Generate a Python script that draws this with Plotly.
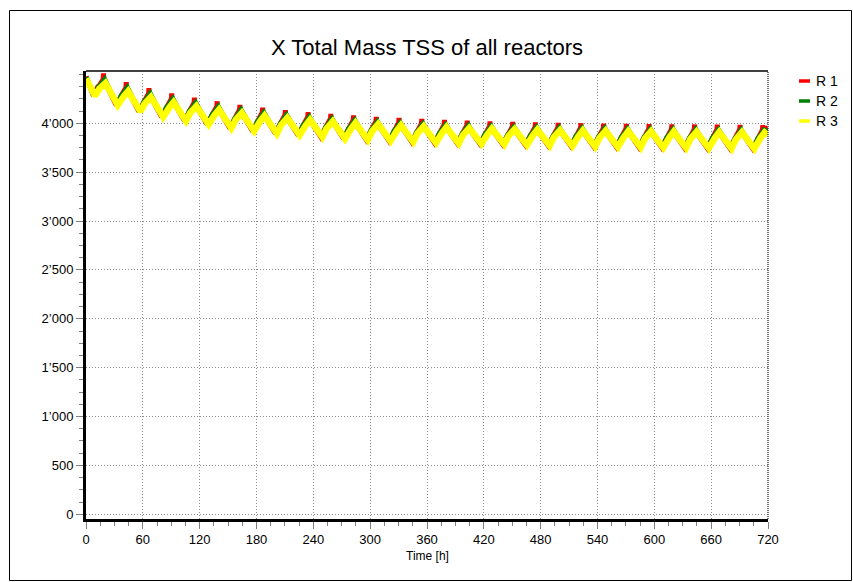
import plotly.graph_objects as go

# ---------------- data ----------------
TROUGH_T = [9.5, 33.5, 57.5, 81.5, 105.5, 129.5, 153.5, 177.5, 201.5, 225.5,
            249.5, 273.5, 297.5, 321.5, 345.5, 369.5, 393.5, 417.5, 441.5, 465.5,
            489.5, 513.5, 537.5, 561.5, 585.5, 609.5, 633.5, 657.5, 681.5, 705.5]
PEAK_T = [20.5, 44.5, 68.5, 92.5, 116.5, 140.5, 164.5, 188.5, 212.5, 236.5,
          260.5, 284.5, 308.5, 332.5, 356.5, 380.5, 404.5, 428.5, 452.5, 476.5,
          500.5, 524.5, 548.5, 572.5, 596.5, 620.5, 644.5, 668.5, 692.5, 716.5]

TROUGH = [4280, 4185, 4120, 4065, 4025, 3990, 3950, 3920, 3895, 3878,
          3860, 3842, 3830, 3820, 3810, 3800, 3795, 3790, 3785, 3778,
          3772, 3767, 3762, 3758, 3754, 3751, 3748, 3745, 3743, 3740]

R3_PEAK = [4410, 4327, 4268, 4215, 4175, 4140, 4105, 4078, 4055, 4035,
           4018, 4003, 3990, 3978, 3968, 3958, 3950, 3944, 3938, 3933,
           3929, 3925, 3922, 3919, 3916, 3914, 3912, 3910, 3908, 3906]
R2_PEAK = [4450, 4365, 4305, 4250, 4210, 4173, 4138, 4110, 4086, 4065,
           4048, 4032, 4018, 4006, 3995, 3985, 3977, 3970, 3964, 3959,
           3955, 3951, 3948, 3945, 3942, 3940, 3938, 3936, 3934, 3932]
R1_PEAK = [4510, 4420, 4360, 4305, 4262, 4225, 4188, 4160, 4135, 4113,
           4095, 4080, 4066, 4054, 4044, 4034, 4026, 4020, 4014, 4009,
           4004, 4000, 3997, 3994, 3991, 3989, 3987, 3985, 3983, 3981]

START = {"R 1": 4480, "R 2": 4470, "R 3": 4455}
END = {"R 1": 3955, "R 2": 3915, "R 3": 3880}

# shape of the rising edge (hours after trough, fraction of rise)
RISE_H = [0.0, 4.5, 6.5]
RISE_F = [0.0, 0.55, 0.65]

X_TICKS = list(range(0, 721, 60))
Y_TICKS = [0, 500, 1000, 1500, 2000, 2500, 3000, 3500, 4000]
Y_LABELS = ["0", "500", "1’000", "1’500", "2’000", "2’500", "3’000", "3’500", "4’000"]

SERIES = ["R 1", "R 2", "R 3"]
COLORS = {"R 1": "#FF0000", "R 2": "#008000", "R 3": "#FFFF00"}


def build(name, shift, peaks, base_peaks=None):
    xs, ys = [0.0], [START[name]]
    for k in range(len(TROUGH_T)):
        tt = TROUGH_T[k] + shift
        tp = PEAK_T[k] + shift
        tr = TROUGH[k]
        top = base_peaks[k] if base_peaks else peaks[k]
        for h, f in zip(RISE_H, RISE_F):
            xs.append(tt + h)
            ys.append(tr + f * (top - tr))
        if base_peaks:
            xs += [tp - 0.8, tp - 0.4, tp]
            ys += [top, peaks[k], top - 10]
        else:
            xs.append(tp)
            ys.append(peaks[k])
    xs.append(720.0)
    ys.append(END[name])
    return xs, ys


fig = go.Figure()
traces = {
    "R 1": build("R 1", -1.6, R1_PEAK, R2_PEAK),
    "R 2": build("R 2", -0.8, R2_PEAK),
    "R 3": build("R 3", 0.0, R3_PEAK),
}
WIDTHS = {"R 1": 5, "R 2": 5, "R 3": 6.5}
for s in SERIES:
    xs, ys = traces[s]
    fig.add_trace(go.Scatter(x=xs, y=ys, mode="lines", name=s,
                             line=dict(color=COLORS[s], width=WIDTHS[s]),
                             showlegend=False, hoverinfo="skip"))

FONT = "Arial, Liberation Sans, sans-serif"

fig.update_layout(
    width=853, height=582,
    margin=dict(l=86, r=85, t=71, b=63),
    paper_bgcolor="white", plot_bgcolor="white",
    font=dict(family=FONT, size=13, color="black"),
    title=dict(text="X Total Mass TSS of all reactors", x=0.5, xref="paper",
               xanchor="center", y=1 - 47 / 582, yref="container", yanchor="middle",
               font=dict(family=FONT, size=22, color="black")),
    showlegend=False,
)

GRID_DASH = "1px,2px"
fig.update_xaxes(
    range=[0, 720], tickmode="array", tickvals=X_TICKS,
    ticks="outside", ticklen=7, tickwidth=1, tickcolor="#808080",
    showline=True, linecolor="black", linewidth=3,
    showgrid=True, gridcolor="#8c8c8c", griddash=GRID_DASH, gridwidth=1,
    zeroline=False,
    minor=dict(tickmode="linear", tick0=0, dtick=15, ticks="outside", ticklen=4,
               tickcolor="#808080", showgrid=False),
    tickfont=dict(size=13), ticklabelstandoff=-1,
)
fig.update_yaxes(
    range=[-48, 4535], tickmode="array", tickvals=Y_TICKS, ticktext=Y_LABELS,
    ticks="outside", ticklen=7, tickwidth=1, tickcolor="#808080",
    showline=True, linecolor="black", linewidth=3,
    showgrid=True, gridcolor="#8c8c8c", griddash=GRID_DASH, gridwidth=1,
    zeroline=False,
    minor=dict(tickmode="linear", tick0=0, dtick=125, ticks="outside", ticklen=4,
               tickcolor="#808080", showgrid=False),
    tickfont=dict(size=13), ticklabelstandoff=0,
)

# x axis title
fig.add_annotation(text="Time [h]", x=0.5, y=(519 - 556) / 448, xref="paper", yref="paper",
                   showarrow=False, xanchor="center", yanchor="middle",
                   font=dict(family=FONT, size=12, color="black"))

PW, PH = 682.0, 448.0
def px_x(px):
    return (px - 86) / PW
def px_y(py):
    return (519 - py) / PH

shapes = []
# top and right frame of plot area
shapes.append(dict(type="line", xref="paper", yref="paper", x0=0, x1=1, y0=1, y1=1,
                   line=dict(color="#404040", width=2)))
shapes.append(dict(type="line", xref="paper", yref="paper", x0=1, x1=1, y0=0, y1=1,
                   line=dict(color="#404040", width=1.5, dash="1px,1px")))
# outer border
shapes.append(dict(type="rect", xref="paper", yref="paper",
                   x0=px_x(9.5), x1=px_x(851.5), y0=px_y(580.5), y1=px_y(10.5),
                   line=dict(color="black", width=1), fillcolor="rgba(0,0,0,0)"))

# manual legend
LEG_Y = [81, 101, 121]
for s, ly in zip(SERIES, LEG_Y):
    shapes.append(dict(type="line", xref="paper", yref="paper",
                       x0=px_x(799), x1=px_x(810), y0=px_y(ly), y1=px_y(ly),
                       line=dict(color=COLORS[s], width=3.5)))
    fig.add_annotation(text=s, x=px_x(814), y=px_y(ly), xref="paper", yref="paper",
                       showarrow=False, xanchor="left", yanchor="middle",
                       font=dict(family=FONT, size=14, color="black"))

fig.update_layout(shapes=shapes)
fig.write_html("out.html", config={"displayModeBar": False},
               post_script="document.body.style.margin='0';document.body.style.padding='0';")
